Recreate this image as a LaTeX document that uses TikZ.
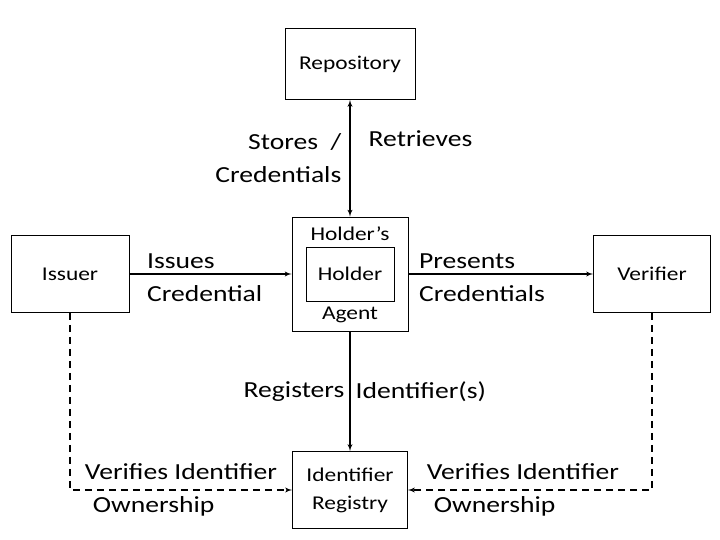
\documentclass[tikz,border=0pt]{standalone}
\usepackage{fontspec}
\setmainfont[FakeStretch=1.2]{Carlito}
\usetikzlibrary{arrows}
\tikzstyle{int}=[draw, line width=0.9pt, minimum width=118pt, minimum height=77pt, font=\fontsize{19.5}{28}\selectfont, align=center]
\tikzstyle{lbl}=[font=\fontsize{23}{33}\selectfont]

\begin{document}
\begin{tikzpicture}[x=1pt,y=1pt,node distance=210pt,>=latex',line width=1.3pt]
        \useasboundingbox (0,0) rectangle (720,540);
        \node [int, minimum width=116pt, minimum height=114pt] (agent) at (350,266) {};
        \node [int, minimum width=88pt, minimum height=54pt] (holder) at (agent) {Holder};
        \node [lbl, font=\fontsize{19.5}{24}\selectfont] (holdertop) [above of=holder, node distance=40pt] {Holder’s};
        \node [lbl, font=\fontsize{19.5}{24}\selectfont] (holderbot) [below of=holder, node distance=41pt] {Agent};
        \node [int, minimum width=130pt, minimum height=71pt] (repo) [above of=agent] {Repository};
        \node [int] (issuer) [left of=agent, node distance=280pt] {Issuer};
        \node [int, minimum width=117pt] (verifier) [right of=agent, node distance=302pt] {Verifier};
        \node [int, minimum width=115pt] (registry) [below of=agent, node distance=216pt] {Identifier\\Registry};
        \draw[<->] (repo) -- node [lbl, pos=.5, left, align=right, inner sep=8pt] {Stores\ \ /\\Credentials}
              node [lbl, pos=.33, right, inner sep=18pt] {Retrieves} (agent);
        \draw[->] (issuer.east) -- node [lbl, pos=0, right, align=left, inner sep=0pt, xshift=17pt, yshift=-4pt] {Issues\\Credential} (issuer.east -| agent.west);
        \draw[->] (agent.east) -- node [lbl, pos=0, right, align=left, inner sep=0pt, xshift=10pt, yshift=-4pt] {Presents\\Credentials} (agent.east -| verifier.west);
        \draw[->] (agent.south) -- node [lbl, pos=.5, left, inner sep=5pt] {Registers}
              node [lbl, pos=.5, right, inner sep=5pt] {Identifier(s)} (registry);
        \draw[->, dashed, dash pattern=on 7pt off 5pt] (issuer) |- node [lbl, pos=.75, align=left] {Verifies Identifier\\\hspace*{8pt}Ownership} (registry);
        \draw[->, dashed, dash pattern=on 7pt off 5pt] (verifier) |- node [lbl, pos=.75, align=left, xshift=-7pt] {Verifies Identifier\\\hspace*{7pt}Ownership} (registry);
    \end{tikzpicture}
\end{document}
